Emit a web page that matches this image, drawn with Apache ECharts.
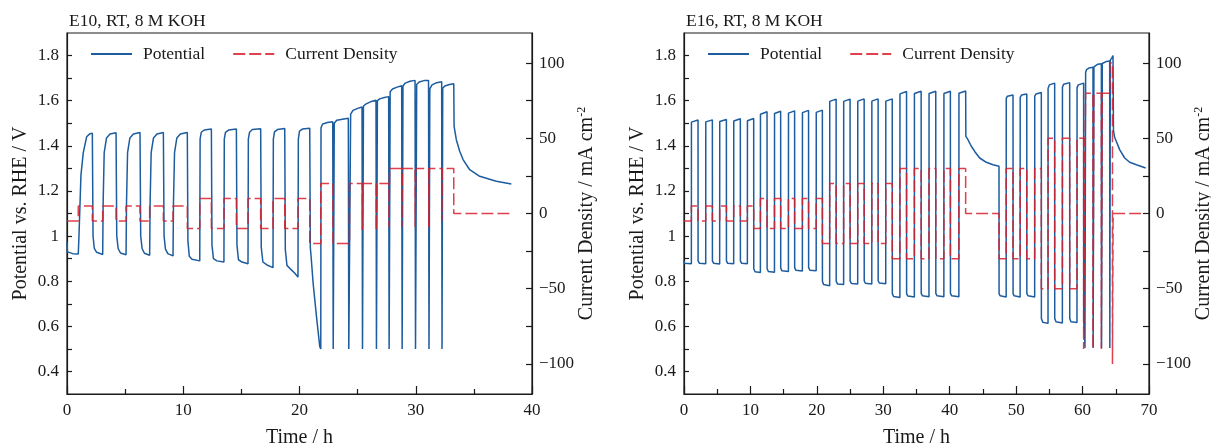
<!DOCTYPE html>
<html>
<head>
<meta charset="utf-8">
<script src="https://cdn.jsdelivr.net/npm/echarts@6/dist/echarts.min.js"></script>
<style>
  html, body { margin: 0; padding: 0; background: #fff; }
  #main { width: 1211px; height: 448px; }
</style>
</head>
<body>
<div id="main"></div>
<script>
// panel titles
var titles = ['E10, RT, 8 M KOH', 'E16, RT, 8 M KOH'];

// tick values
var potTicks = [0.4, 0.5, 0.6, 0.7, 0.8, 0.9, 1.0, 1.1, 1.2, 1.3, 1.4, 1.5, 1.6, 1.7, 1.8];
var potLabels = [0.4, 0.6, 0.8, 1.0, 1.2, 1.4, 1.6, 1.8];
var curTicks = [-100, -75, -50, -25, 0, 25, 50, 75, 100];
var curLabels = [-100, -50, 0, 50, 100];

// E10 potential [time h, V vs RHE]
var e10Potential = [
  [0, 0.975], [0.04, 0.93], [0.5, 0.922], [0.97, 0.921],
  [1.03, 1.0], [1.2, 1.27], [1.4, 1.37], [1.69, 1.44], [1.98, 1.454], [2.18, 1.456],
  [2.24, 1.0], [2.35, 0.945], [2.55, 0.928], [3.07, 0.918],
  [3.11, 1.15], [3.2, 1.37], [3.4, 1.435], [3.7, 1.452], [4.22, 1.458],
  [4.28, 1.0], [4.4, 0.945], [4.6, 0.925], [5.08, 0.917],
  [5.12, 1.15], [5.21, 1.37], [5.41, 1.435], [5.71, 1.452], [6.28, 1.459],
  [6.34, 1.0], [6.46, 0.945], [6.66, 0.924], [7.11, 0.915],
  [7.15, 1.15], [7.24, 1.37], [7.44, 1.435], [7.74, 1.452], [8.29, 1.459],
  [8.35, 1.0], [8.47, 0.942], [8.67, 0.922], [9.12, 0.912],
  [9.16, 1.15], [9.25, 1.37], [9.45, 1.435], [9.75, 1.452], [10.35, 1.459],
  [10.4, 0.98], [10.52, 0.91], [10.75, 0.897], [11.42, 0.89],
  [11.45, 1.43], [11.55, 1.46], [11.8, 1.47], [12.42, 1.474],
  [12.47, 0.96], [12.6, 0.9], [12.9, 0.89], [13.5, 0.885],
  [13.53, 1.43], [13.63, 1.46], [13.9, 1.47], [14.57, 1.475],
  [14.62, 0.96], [14.75, 0.895], [15.05, 0.885], [15.57, 0.877],
  [15.6, 1.43], [15.7, 1.46], [15.95, 1.472], [16.66, 1.476],
  [16.71, 0.95], [16.85, 0.885], [17.2, 0.872], [17.72, 0.86],
  [17.75, 1.43], [17.85, 1.462], [18.1, 1.472], [18.73, 1.477],
  [18.78, 0.94], [18.92, 0.87], [19.3, 0.85], [19.6, 0.835], [19.87, 0.818],
  [19.9, 1.43], [20.0, 1.465], [20.25, 1.474], [20.88, 1.478],
  [20.93, 0.95], [21.02, 0.895], [21.17, 0.792], [21.46, 0.644], [21.74, 0.511], [21.83, 0.5],
  [21.85, 1.48], [21.99, 1.497], [22.4, 1.503], [22.86, 1.507], [22.9, 0.5], [22.96, 0.5],
  [22.99, 1.5], [23.2, 1.513], [23.7, 1.518], [24.2, 1.522], [24.24, 0.5], [24.36, 0.5],
  [24.4, 1.54], [24.6, 1.557], [25.0, 1.566], [25.38, 1.572], [25.42, 0.5], [25.47, 0.5],
  [25.5, 1.575], [25.7, 1.585], [26.1, 1.595], [26.58, 1.602], [26.62, 0.5], [26.67, 0.5],
  [26.7, 1.6], [26.9, 1.608], [27.3, 1.614], [27.67, 1.618], [27.71, 0.5], [27.76, 0.5],
  [27.8, 1.64], [28.0, 1.652], [28.4, 1.66], [28.79, 1.666], [28.83, 0.5], [28.87, 0.5],
  [28.9, 1.665], [29.1, 1.678], [29.5, 1.686], [29.94, 1.69], [29.98, 0.5], [30.04, 0.5],
  [30.08, 1.672], [30.3, 1.683], [30.7, 1.689], [31.1, 1.69], [31.14, 0.5], [31.18, 0.5],
  [31.21, 1.652], [31.4, 1.67], [31.8, 1.68], [32.23, 1.684], [32.26, 0.5], [32.29, 0.5],
  [32.32, 1.655], [32.5, 1.665], [32.9, 1.672], [33.27, 1.675],
  [33.3, 1.486], [33.49, 1.427], [33.78, 1.376], [34.07, 1.339], [34.64, 1.294],
  [35.5, 1.265], [36.93, 1.243], [38.22, 1.231]
];

// E10 current density, value holds from its time to the next [time h, mA cm-2]
var e10Current = [
  [0, -5], [0.97, 5], [2.18, -5], [3.07, 5], [4.22, -5], [5.08, 5], [6.28, -5], [7.11, 5],
  [8.29, -5], [9.12, 5], [10.35, -10], [11.42, 10], [12.42, -10], [13.5, 10], [14.57, -10],
  [15.57, 10], [16.66, -10], [17.72, 10], [18.73, -10], [19.87, 10], [20.88, -20], [21.83, 20],
  [22.88, -20], [24.3, 20], [25.4, -11], [25.45, 20], [26.6, -11], [26.65, 20], [27.7, -9],
  [27.75, 30], [28.8, -9], [28.85, 30], [29.95, -9], [30.0, 30], [31.12, -9], [31.17, 30],
  [32.24, -5], [32.28, 30], [33.27, 0], [38.22, 0]
];

// E16 potential [time h, V vs RHE]
var e16Potential = [
  [0, 0.89], [0.06, 0.88], [1.11, 0.877],
  [1.12, 1.505], [1.3, 1.512], [2.11, 1.514], [2.12, 0.89], [2.3, 0.88], [3.27, 0.877],
  [3.28, 1.506], [3.45, 1.512], [4.27, 1.515], [4.28, 0.89], [4.45, 0.88], [5.37, 0.876],
  [5.38, 1.508], [5.55, 1.514], [6.38, 1.517], [6.39, 0.89], [6.55, 0.88], [7.48, 0.877],
  [7.49, 1.51], [7.65, 1.517], [8.48, 1.52], [8.49, 0.89], [8.65, 0.88], [9.54, 0.877],
  [9.55, 1.511], [9.7, 1.518], [10.49, 1.521], [10.5, 0.855], [10.7, 0.842], [11.5, 0.838],
  [11.51, 1.54], [11.7, 1.548], [12.5, 1.551], [12.51, 0.855], [12.7, 0.843], [13.62, 0.84],
  [13.63, 1.543], [13.8, 1.55], [14.55, 1.553], [14.56, 0.858], [14.75, 0.846], [15.72, 0.843],
  [15.73, 1.545], [15.9, 1.552], [16.65, 1.555], [16.66, 0.86], [16.85, 0.848], [17.82, 0.845],
  [17.83, 1.547], [18.0, 1.554], [18.75, 1.557], [18.76, 0.86], [18.95, 0.849], [19.9, 0.846],
  [19.91, 1.548], [20.1, 1.555], [20.83, 1.558], [20.84, 0.8], [21.0, 0.785], [21.93, 0.78],
  [21.94, 1.597], [22.1, 1.604], [22.9, 1.607], [22.91, 0.8], [23.1, 0.788], [24.03, 0.785],
  [24.04, 1.597], [24.2, 1.604], [25.0, 1.607], [25.01, 0.8], [25.2, 0.79], [26.15, 0.787],
  [26.16, 1.598], [26.35, 1.605], [27.12, 1.608], [27.13, 0.802], [27.3, 0.791], [28.27, 0.788],
  [28.28, 1.598], [28.45, 1.605], [29.22, 1.608], [29.23, 0.802], [29.4, 0.792], [30.37, 0.789],
  [30.38, 1.598], [30.55, 1.605], [31.35, 1.608], [31.36, 0.745], [31.55, 0.732], [32.5, 0.728],
  [32.51, 1.63], [32.7, 1.638], [33.5, 1.641], [33.51, 0.745], [33.7, 0.734], [34.68, 0.73],
  [34.69, 1.632], [34.85, 1.639], [35.7, 1.642], [35.71, 0.746], [35.9, 0.735], [36.88, 0.731],
  [36.89, 1.632], [37.05, 1.639], [37.9, 1.642], [37.91, 0.746], [38.1, 0.735], [39.12, 0.731],
  [39.13, 1.632], [39.3, 1.639], [40.1, 1.642], [40.11, 0.746], [40.3, 0.735], [41.38, 0.731],
  [41.39, 1.633], [41.55, 1.64], [42.4, 1.643],
  [42.43, 1.442], [42.75, 1.427], [42.95, 1.415], [43.1, 1.41], [43.25, 1.398], [43.76, 1.375],
  [44.51, 1.346], [45.51, 1.327], [46.52, 1.316], [47.42, 1.309],
  [47.43, 0.745], [47.6, 0.735], [48.5, 0.73],
  [48.51, 1.61], [48.7, 1.62], [49.53, 1.625], [49.54, 0.745], [49.7, 0.735], [50.6, 0.73],
  [50.61, 1.615], [50.8, 1.625], [51.6, 1.63], [51.61, 0.745], [51.8, 0.735], [52.79, 0.73],
  [52.8, 1.62], [53.0, 1.63], [53.79, 1.636], [53.8, 0.635], [54.0, 0.618], [54.8, 0.613],
  [54.81, 1.655], [55.0, 1.67], [55.8, 1.678], [55.81, 0.635], [56.0, 0.62], [56.96, 0.615],
  [56.97, 1.66], [57.15, 1.673], [58.06, 1.68], [58.07, 0.635], [58.25, 0.62], [59.16, 0.617],
  [59.17, 1.658], [59.35, 1.67], [60.16, 1.678], [60.17, 0.62], [60.3, 0.56], [60.36, 0.504], [60.44, 0.504],
  [60.46, 1.725], [60.6, 1.738], [61.0, 1.745], [61.57, 1.748], [61.59, 0.504], [61.69, 0.504],
  [61.71, 1.75], [61.9, 1.758], [62.3, 1.762], [62.83, 1.764], [62.85, 0.504], [62.95, 0.504],
  [62.97, 1.765], [63.2, 1.77], [63.6, 1.774], [64.08, 1.776], [64.1, 0.504], [64.16, 0.504],
  [64.18, 1.78], [64.4, 1.79], [64.58, 1.8], [64.65, 1.47], [64.8, 1.44], [64.98, 1.427],
  [65.58, 1.383], [66.34, 1.346], [67.09, 1.327], [68.1, 1.316], [69.5, 1.302]
];

// E16 current density [time h, mA cm-2]
var e16Current = [
  [0, -5], [1.11, 5], [2.11, -5], [3.27, 5], [4.27, -5], [5.37, 5], [6.38, -5], [7.48, 5],
  [8.48, -5], [9.54, 5], [10.49, -10], [11.5, 10], [12.5, -10], [13.62, 10], [14.55, -10],
  [15.72, 10], [16.65, -10], [17.82, 10], [18.75, -10], [19.9, 10], [20.83, -20], [21.93, 20],
  [22.9, -20], [24.03, 20], [25.0, -20], [26.15, 20], [27.12, -20], [28.27, 20], [29.22, -20],
  [30.37, 20], [31.35, -30], [32.5, 30], [33.5, -30], [34.68, 30], [35.7, -30], [36.88, 30],
  [37.9, -30], [39.12, 30], [40.1, -30], [41.38, 30], [42.4, 0], [47.42, -30], [48.5, 30],
  [49.53, -30], [50.6, 30], [51.6, -30], [52.79, 30], [53.79, -50], [54.8, 50], [55.8, -50],
  [56.96, 50], [58.06, -50], [59.16, 50], [60.16, -90], [60.45, 80], [61.57, -90], [61.7, 80],
  [62.83, -90], [62.96, 80], [64.1, 100], [64.5, -100], [64.6, 0], [69.5, 0]
];

var FONT = "'Liberation Serif', 'Times New Roman', serif";
var INK = '#1a1a1a';
var BLUE = '#1c5c9f';
var RED = '#d7202b';

var gridTop = 33, gridH = 361, gridW = 465;
var gridLefts = [67, 684];
var xMax = [40, 70];

function fmtNum(v) {
  var s = String(Math.round(v * 10) / 10);
  return s.charAt(0) === '-' ? '\u2212' + s.slice(1) : s;
}

var option = {
  animation: false,
  backgroundColor: '#fff',
  textStyle: { fontFamily: FONT },
  title: [],
  legend: [],
  grid: [],
  xAxis: [],
  yAxis: [],
  series: []
};

for (var i = 0; i < 2; i++) {
  option.title.push({
    text: titles[i], left: gridLefts[i] - 3, top: 7,
    textStyle: { fontFamily: FONT, fontSize: 17.5, fontWeight: 'normal', color: INK }
  });
  option.legend.push({
    left: gridLefts[i] + 18, top: 40,
    itemWidth: 41, itemHeight: 14, itemGap: 27,
    data: ['Potential', 'Current Density'],
    itemStyle: { opacity: 0 },
    textStyle: { fontFamily: FONT, fontSize: 17.5, color: INK, padding: [0, 0, 0, 6] }
  });
  option.grid.push({
    left: gridLefts[i], top: gridTop, width: gridW, height: gridH,
    outerBoundsMode: 'none', containLabel: false,
    show: true, borderColor: INK, borderWidth: 1.2, backgroundColor: 'transparent'
  });
  option.xAxis.push({
    type: 'value', gridIndex: i, min: 0, max: xMax[i], interval: 10,
    name: 'Time / h', nameLocation: 'middle', nameGap: 34,
    nameTextStyle: { fontFamily: FONT, fontSize: 20, color: INK },
    axisLine: { onZero: false, lineStyle: { color: INK, width: 1.2 } },
    axisTick: { inside: true, length: 8, lineStyle: { color: INK, width: 1.2 } },
    minorTick: { show: true, splitNumber: 2, length: 5, lineStyle: { color: INK, width: 1.2 } },
    axisLabel: { fontFamily: FONT, fontSize: 17, color: INK, margin: 8 },
    splitLine: { show: false }
  });
  option.yAxis.push({
    type: 'value', gridIndex: i, min: 0.3, max: 1.9, position: 'left',
    name: 'Potential vs. RHE / V', nameLocation: 'middle', nameGap: 36, nameRotate: 90,
    nameTextStyle: { fontFamily: FONT, fontSize: 20, color: INK },
    axisLine: { show: true, onZero: false, lineStyle: { color: INK, width: 1.2 } },
    axisTick: { inside: true, length: 5, customValues: potTicks, lineStyle: { color: INK, width: 1.2 } },
    axisLabel: { fontFamily: FONT, fontSize: 17, color: INK, margin: 8, customValues: potLabels, formatter: fmtNum },
    splitLine: { show: false }
  });
  option.yAxis.push({
    type: 'value', gridIndex: i, min: -120, max: 120, position: 'right',
    name: 'Current Density / mA cm{sup|-2}', nameLocation: 'middle', nameGap: 44, nameRotate: 90,
    nameMoveOverlap: false,
    nameTextStyle: {
      fontFamily: FONT, fontSize: 20, color: INK,
      rich: { sup: { fontFamily: FONT, fontSize: 12, color: INK, padding: [0, 0, 10, 0] } }
    },
    axisLine: { show: true, onZero: false, lineStyle: { color: INK, width: 1.2 } },
    axisTick: { inside: true, length: 6, customValues: curTicks, lineStyle: { color: INK, width: 1.2 } },
    axisLabel: { fontFamily: FONT, fontSize: 17, color: INK, margin: 7, customValues: curLabels, formatter: fmtNum },
    splitLine: { show: false }
  });
}

option.series = [
  {
    name: 'Potential', type: 'line', xAxisIndex: 0, yAxisIndex: 0,
    data: e10Potential, showSymbol: false, symbol: 'none',
    lineStyle: { color: BLUE, width: 1.5 }, itemStyle: { color: BLUE }
  },
  {
    name: 'Current Density', type: 'line', xAxisIndex: 0, yAxisIndex: 1,
    data: e10Current, step: 'end', showSymbol: false, symbol: 'none',
    lineStyle: { color: RED, width: 1.5, type: [12, 4], opacity: 0.85 }, itemStyle: { color: RED }
  },
  {
    name: 'Potential', type: 'line', xAxisIndex: 1, yAxisIndex: 2,
    data: e16Potential, showSymbol: false, symbol: 'none',
    lineStyle: { color: BLUE, width: 1.5 }, itemStyle: { color: BLUE }
  },
  {
    name: 'Current Density', type: 'line', xAxisIndex: 1, yAxisIndex: 3,
    data: e16Current, step: 'end', showSymbol: false, symbol: 'none',
    lineStyle: { color: RED, width: 1.5, type: [12, 4], opacity: 0.85 }, itemStyle: { color: RED }
  }
];

var myChart = echarts.init(document.getElementById('main'));
myChart.setOption(option);
</script>
</body>
</html>
